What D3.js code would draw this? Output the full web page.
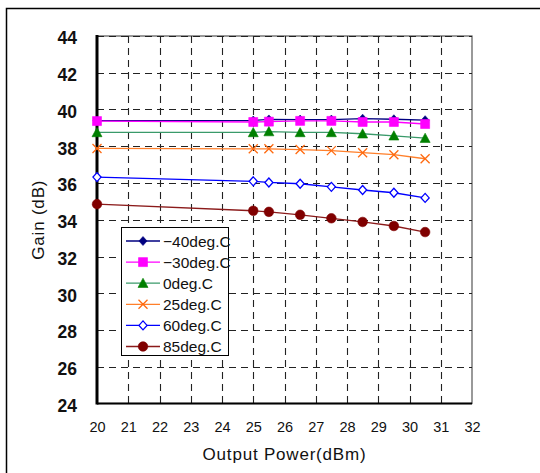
<!DOCTYPE html>
<html>
<head>
<meta charset="utf-8">
<script src="https://cdn.jsdelivr.net/npm/d3@7"></script>
<style>
  html, body { margin: 0; padding: 0; background: #fff; }
  svg { display: block; font-family: Arial, "Liberation Sans", sans-serif; }
</style>
</head>
<body>
<svg id="chart" width="540" height="473"></svg>
<script>
// Output power sweep points (dBm)
const outputPower = [20, 25, 25.5, 26.5, 27.5, 28.5, 29.5, 30.5];

// Gain (dB) per temperature
const gainMinus40 = [39.40, 39.40, 39.46, 39.45, 39.45, 39.50, 39.47, 39.42];
const gainMinus30 = [39.37, 39.32, 39.34, 39.38, 39.38, 39.32, 39.32, 39.21];
const gain0 = [38.75, 38.75, 38.80, 38.75, 38.75, 38.68, 38.57, 38.44];
const gain25 = [37.88, 37.86, 37.86, 37.82, 37.76, 37.65, 37.54, 37.32];
const gain60 = [36.32, 36.09, 36.03, 35.96, 35.79, 35.62, 35.47, 35.19];
const gain85 = [34.85, 34.49, 34.43, 34.27, 34.08, 33.88, 33.66, 33.33];

const seriesNames = ["\u221240deg.C", "\u221230deg.C", "0deg.C", "25deg.C", "60deg.C", "85deg.C"];

const xTicks = [20, 21, 22, 23, 24, 25, 26, 27, 28, 29, 30, 31, 32];
const yTicks = [24, 26, 28, 30, 32, 34, 36, 38, 40, 42, 44];

const series = [
  { name: seriesNames[0], values: gainMinus40, line: "#000080", marker: "diamond", fill: "#000080", stroke: "#000080", r: 4.5 },
  { name: seriesNames[1], values: gainMinus30, line: "#ff00ff", marker: "square", fill: "#ff00ff", stroke: "#ff00ff", r: 4.5 },
  { name: seriesNames[2], values: gain0, line: "#3a9a6a", marker: "triangle", fill: "#008000", stroke: "#008000", r: 5 },
  { name: seriesNames[3], values: gain25, line: "#ff7f2a", marker: "cross", fill: "none", stroke: "#ff6a10", r: 4.5 },
  { name: seriesNames[4], values: gain60, line: "#0000ff", marker: "diamond", fill: "#ffffff", stroke: "#0000ff", r: 4.5 },
  { name: seriesNames[5], values: gain85, line: "#8b1a1a", marker: "circle", fill: "#800000", stroke: "#800000", r: 4.8 }
];

const svg = d3.select("#chart");

// outer frame
svg.append("rect")
  .attr("x", 6.5).attr("y", 8.5)
  .attr("width", 560).attr("height", 480)
  .attr("fill", "none").attr("stroke", "#000").attr("stroke-width", 1.5);

const plot = { left: 97, right: 472, top: 36, bottom: 403.5 };

const x = d3.scaleLinear().domain([20, 32]).range([plot.left, plot.right]);
const y = d3.scaleLinear().domain([24, 44]).range([plot.bottom, plot.top]);

// plot area border
svg.append("rect")
  .attr("x", plot.left).attr("y", plot.top)
  .attr("width", plot.right - plot.left).attr("height", plot.bottom - plot.top)
  .attr("fill", "#fff").attr("stroke", "#555").attr("stroke-width", 1.2);

// dashed grid
const grid = svg.append("g").attr("stroke", "#222").attr("stroke-width", 1.1)
  .attr("stroke-dasharray", "7,5");
grid.selectAll("line.v").data(xTicks.slice(1, -1)).join("line")
  .attr("class", "v")
  .attr("x1", d => Math.round(x(d)) + 0.5).attr("x2", d => Math.round(x(d)) + 0.5)
  .attr("y1", plot.top).attr("y2", plot.bottom);
grid.selectAll("line.h").data(yTicks.slice(1)).join("line")
  .attr("class", "h")
  .attr("y1", d => Math.round(y(d)) + 0.5).attr("y2", d => Math.round(y(d)) + 0.5)
  .attr("x1", plot.left).attr("x2", plot.right);

// axes
const xAxis = svg.append("g")
  .attr("transform", `translate(0,${plot.bottom})`)
  .call(d3.axisBottom(x).tickValues(xTicks).tickSize(0).tickPadding(18).tickFormat(d3.format("d")));
xAxis.select(".domain").remove();
xAxis.selectAll("text").attr("font-size", 14.5).attr("fill", "#111");

const yAxis = svg.append("g")
  .attr("transform", `translate(${plot.left},0)`)
  .call(d3.axisLeft(y).tickValues(yTicks).tickSize(0).tickPadding(20).tickFormat(d3.format("d")));
yAxis.select(".domain").remove();
yAxis.selectAll("text").attr("font-size", 17.5).attr("font-weight", "bold").attr("fill", "#111")
  .attr("dy", "0.45em");

// axis lines
svg.append("line")
  .attr("x1", plot.left).attr("x2", plot.left)
  .attr("y1", plot.top - 1).attr("y2", plot.bottom + 1)
  .attr("stroke", "#000").attr("stroke-width", 3);
svg.append("line")
  .attr("x1", plot.left).attr("x2", plot.right)
  .attr("y1", plot.bottom).attr("y2", plot.bottom)
  .attr("stroke", "#000").attr("stroke-width", 2);

// axis titles
svg.append("text")
  .attr("x", (plot.left + plot.right) / 2).attr("y", 460)
  .attr("text-anchor", "middle").attr("font-size", 17).attr("letter-spacing", 0.8)
  .attr("fill", "#111")
  .text("Output Power(dBm)");
svg.append("text")
  .attr("transform", `translate(44,${(plot.top + plot.bottom) / 2}) rotate(-90)`)
  .attr("text-anchor", "middle").attr("font-size", 17).attr("letter-spacing", 0.8)
  .attr("fill", "#111")
  .text("Gain (dB)");

function markerPath(type, r) {
  const p = d3.path();
  if (type === "diamond") {
    p.moveTo(0, -r); p.lineTo(r * 0.9, 0); p.lineTo(0, r); p.lineTo(-r * 0.9, 0); p.closePath();
  } else if (type === "square") {
    p.rect(-r, -r, 2 * r, 2 * r);
  } else if (type === "triangle") {
    p.moveTo(0, -r); p.lineTo(r, r * 0.85); p.lineTo(-r, r * 0.85); p.closePath();
  } else if (type === "cross") {
    p.moveTo(-r, -r); p.lineTo(r, r); p.moveTo(r, -r); p.lineTo(-r, r);
  } else {
    p.arc(0, 0, r, 0, 2 * Math.PI);
  }
  return p.toString();
}

function drawMarker(g, s, cx, cy) {
  return g.append("path")
    .attr("d", markerPath(s.marker, s.r))
    .attr("transform", `translate(${cx},${cy})`)
    .attr("fill", s.marker === "cross" ? "none" : s.fill)
    .attr("stroke", s.stroke)
    .attr("stroke-width", s.marker === "cross" ? 1.3 : (s.fill === "#ffffff" ? 1.3 : 0.6));
}

const line = d3.line().x(d => x(d[0])).y(d => y(d[1]));

// series lines and markers
const seriesG = svg.append("g");
series.forEach(s => {
  const pts = outputPower.map((p, i) => [p, s.values[i]]);
  seriesG.append("path")
    .datum(pts)
    .attr("d", line)
    .attr("fill", "none")
    .attr("stroke", s.line)
    .attr("stroke-width", 1.3);
  pts.forEach(pt => drawMarker(seriesG, s, x(pt[0]), y(pt[1])));
});

// legend
const legend = svg.append("g");
legend.append("rect")
  .attr("x", 121.5).attr("y", 227.5).attr("width", 107).attr("height", 128)
  .attr("fill", "#fff").attr("stroke", "#000").attr("stroke-width", 1);
series.forEach((s, i) => {
  const ly = 241 + i * 21.1;
  legend.append("line")
    .attr("x1", 126).attr("x2", 160).attr("y1", ly).attr("y2", ly)
    .attr("stroke", s.line).attr("stroke-width", 1.3);
  drawMarker(legend, s, 143, ly);
  legend.append("text")
    .attr("x", 163).attr("y", ly).attr("dy", "0.36em")
    .attr("font-size", 15.5).attr("fill", "#111")
    .text(s.name);
});
</script>
</body>
</html>
